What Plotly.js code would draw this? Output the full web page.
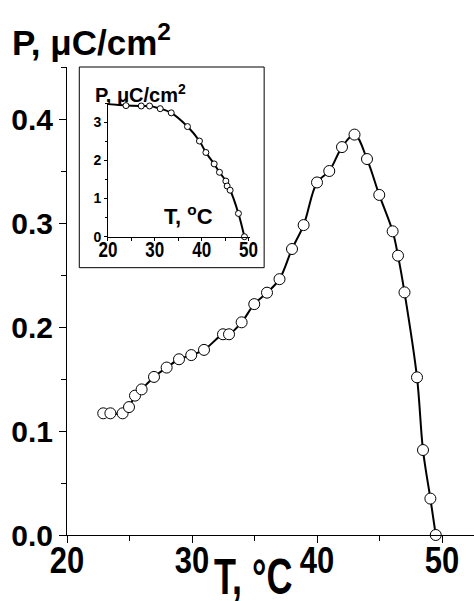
<!DOCTYPE html>
<html><head><meta charset="utf-8">
<script src="https://cdn.plot.ly/plotly-3.0.1.min.js"></script>
<style>html,body{margin:0;padding:0;background:#fff}#chart{width:474px;height:601px}</style>
</head><body><div id="chart"></div>
<script>
// Main curve: polarization vs temperature
const mainT = [22.9, 23.47, 24.45, 24.96, 25.44, 25.97, 26.96, 27.97, 28.96, 29.94, 30.96, 32.48, 32.96, 33.97, 34.98, 36.0, 37.0, 38.0, 38.93, 40.0, 40.98, 42.0, 43.0, 44.0, 44.98, 46.05, 46.48, 47.0, 48.0, 48.48, 49.07, 49.5];
const mainP = [0.117, 0.117, 0.117, 0.123, 0.134, 0.140, 0.152, 0.161, 0.169, 0.173, 0.178, 0.193, 0.193, 0.2045, 0.222, 0.233, 0.246, 0.275, 0.298, 0.339, 0.350, 0.373, 0.385, 0.3615, 0.327, 0.292, 0.2686, 0.2333, 0.1516, 0.0817, 0.035, 0];
// Inset curve
const insetT = [23.84, 27.1, 28.87, 31.15, 33.5, 36.97, 39.53, 40.9, 42.67, 43.8, 45.16, 45.44, 46.08, 47.85, 49.13];
const insetP = [3.44, 3.43, 3.43, 3.36, 3.25, 2.89, 2.51, 2.21, 1.91, 1.69, 1.46, 1.33, 1.22, 0.61, 0];
const insetLeadT = [20];
const insetLeadP = [3.48];
// Tick values
const mainXTicks = [20, 30, 40, 50];
const mainYTicks = [0.0, 0.1, 0.2, 0.3, 0.4];
const insetXTicks = [20, 30, 40, 50];
const insetYTicks = [0, 1, 2, 3];

const BOLD = 'bold';
const SANS = 'Liberation Sans, Arial, sans-serif';

const traces = [
  {x: mainT, y: mainP, mode: 'lines', line: {color: '#000', width: 2, shape: 'spline', smoothing: 1}, xaxis: 'x', yaxis: 'y', hoverinfo: 'skip'},
  {x: mainT, y: mainP, mode: 'markers', marker: {size: 11, color: '#fff', line: {color: '#000', width: 1}}, xaxis: 'x', yaxis: 'y', cliponaxis: false},
  {x: insetLeadT.concat(insetT), y: insetLeadP.concat(insetP), mode: 'lines', line: {color: '#000', width: 2, shape: 'spline', smoothing: 0.8}, xaxis: 'x2', yaxis: 'y2'},
  {x: insetT, y: insetP, mode: 'markers', marker: {size: 6, color: '#fff', line: {color: '#000', width: 1}}, xaxis: 'x2', yaxis: 'y2', cliponaxis: false}
];

const layout = {
  width: 474, height: 601,
  margin: {l: 67, r: 0, t: 67, b: 66},
  paper_bgcolor: '#fff', plot_bgcolor: 'rgba(0,0,0,0)',
  showlegend: false,
  xaxis: {
    range: [20, 52.56], showline: true, linecolor: '#000', linewidth: 1, showgrid: false, zeroline: false,
    tickmode: 'array', tickvals: mainXTicks, ticks: 'outside', ticklen: 7, tickcolor: '#000',
    minor: {dtick: 5, tick0: 20, ticks: 'outside', ticklen: 5, tickcolor: '#000'},
    tickfont: {family: SANS, size: 31, weight: BOLD, color: '#000'}, ticklabelstandoff: -13
  },
  yaxis: {
    range: [0, 0.45], showline: true, linecolor: '#000', linewidth: 1, showgrid: false, zeroline: false,
    tickmode: 'array', tickvals: mainYTicks, tickformat: '.1f', ticks: 'outside', ticklen: 7, tickcolor: '#000',
    minor: {dtick: 0.05, tick0: 0, ticks: 'outside', ticklen: 5, tickcolor: '#000'},
    tickfont: {family: SANS, size: 30, weight: BOLD, color: '#000'}
  },
  xaxis2: {
    domain: [0.1007, 0.45], anchor: 'y2', range: [20, 50.35], showline: true, linecolor: '#000', linewidth: 1,
    showgrid: false, zeroline: false, tickmode: 'array', tickvals: insetXTicks, ticks: 'outside', ticklen: 3, tickcolor: '#000',
    minor: {dtick: 5, tick0: 20, ticks: 'outside', ticklen: 3, tickcolor: '#000'},
    tickfont: {family: SANS, size: 17, weight: BOLD, color: '#000'}, ticklabelstandoff: -8
  },
  yaxis2: {
    domain: [0.6374, 0.9224], anchor: 'x2', range: [0, 3.5], showline: true, linecolor: '#000', linewidth: 1,
    showgrid: false, zeroline: false, tickmode: 'array', tickvals: insetYTicks, ticks: 'outside', ticklen: 3, tickcolor: '#000',
    minor: {dtick: 0.5, tick0: 0, ticks: 'outside', ticklen: 2, tickcolor: '#000'},
    tickfont: {family: SANS, size: 14, weight: BOLD, color: '#000'}
  },
  shapes: [
    {type: 'rect', xref: 'paper', yref: 'paper', x0: 0.0302, x1: 0.4844, y0: 0.5712, y1: 1.0, line: {color: '#000', width: 1}}
  ],
  annotations: [
    {text: 'P, μC/cm<sup>2</sup>', xref: 'paper', yref: 'paper', x: -0.1392, y: 1.058, xanchor: 'left', yanchor: 'middle', showarrow: false,
     font: {family: SANS, size: 35, weight: BOLD, color: '#000'}},
    {text: 'T, °C', xref: 'paper', yref: 'paper', x: 0.3553, y: -0.1, xanchor: 'left', yanchor: 'middle', showarrow: false,
     font: {family: SANS, size: 36, weight: BOLD, color: '#000'}},
    {text: 'P, μC/cm<sup>2</sup>', xref: 'paper', yref: 'paper', x: 0.0646, y: 0.943, xanchor: 'left', yanchor: 'middle', showarrow: false,
     font: {family: SANS, size: 20, weight: BOLD, color: '#000'}},
    {text: 'T, <sup>o</sup>C', xref: 'paper', yref: 'paper', x: 0.234, y: 0.6838, xanchor: 'left', yanchor: 'middle', showarrow: false,
     font: {family: SANS, size: 22, weight: BOLD, color: '#000'}}
  ]
};

function stretch(el, factor, origin) {
  const attr = el.getAttribute('transform') || '';
  let pre = '';
  const m = attr.match(/translate\(\s*([-\d.eE]+)[\s,]*([-\d.eE]*)\s*\)/);
  if (m) pre = 'translate(' + m[1] + 'px,' + (m[2] || '0') + 'px) ';
  el.style.transformBox = 'fill-box';
  el.style.transformOrigin = origin;
  el.style.transform = pre + 'scaleY(' + factor + ')';
}

Plotly.newPlot('chart', traces, layout, {displayModeBar: false, staticPlot: true}).then(function () {
  const ann = document.querySelectorAll('#chart g.annotation text.annotation-text');
  if (ann[1]) stretch(ann[1], 1.4, '50% 80%');
  document.querySelectorAll('#chart g.xtick text').forEach(function (t) { stretch(t, 1.22, '50% 0%'); });
  document.querySelectorAll('#chart g.x2tick text').forEach(function (t) { stretch(t, 1.25, '50% 0%'); });
});
</script>
</body></html>
